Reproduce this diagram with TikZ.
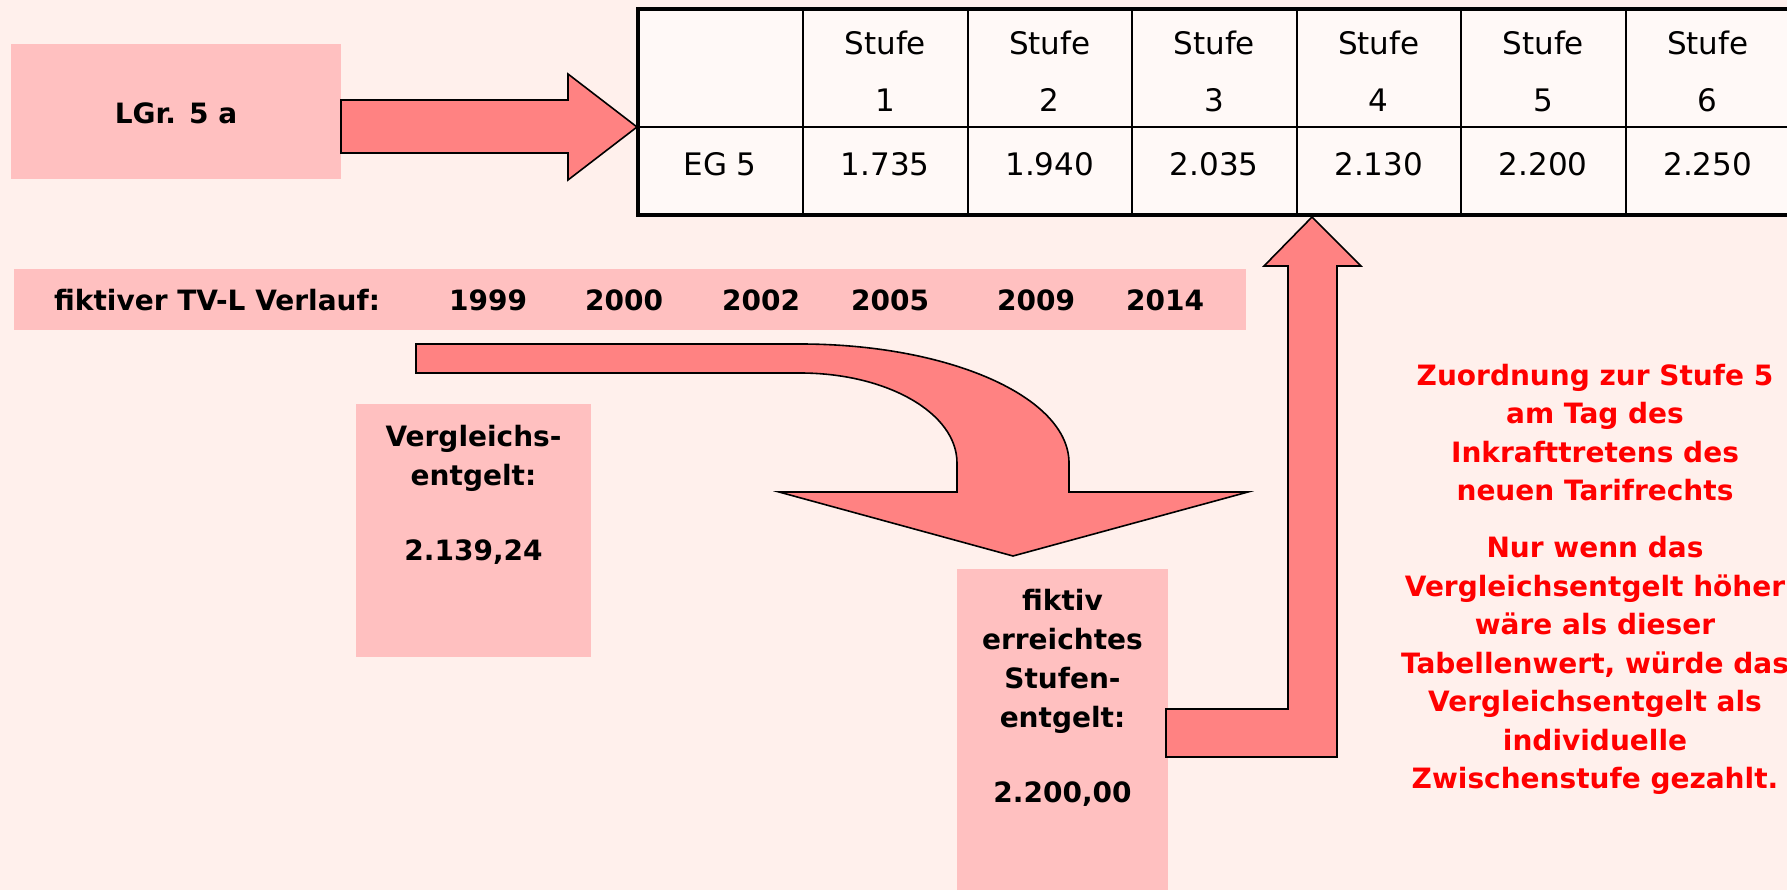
\documentclass[tikz,border=0pt]{standalone}
\usepackage{fontspec}
\setmainfont{DejaVu Sans}

\definecolor{grund}{RGB}{255,240,236}
\definecolor{kasten}{RGB}{255,192,192}
\definecolor{pfeil}{RGB}{255,130,130}
\definecolor{tabelle}{RGB}{255,249,247}

\tikzset{
  kastenfill/.style={fill=kasten, inner sep=0pt},
  blockpfeil/.style={fill=pfeil, draw=black, line width=1.6pt, line join=miter},
  fett/.style={font=\fontsize{28}{39}\selectfont\bfseries, align=center, inner sep=0pt},
  tabtext/.style={font=\fontsize{31}{57}\selectfont, align=center, inner sep=0pt},
  hinweis/.style={font=\fontsize{28}{38.5}\selectfont\bfseries, text=red, align=center, inner sep=0pt}
}

\begin{document}
\begin{tikzpicture}[x=1pt,y=-1pt]
\useasboundingbox (0,0) rectangle (1787,890);
\clip (0,0) rectangle (1787,890);
\fill[grund] (0,0) rectangle (1787,890);

\node[kastenfill, minimum width=330pt, minimum height=135pt, fett, text height=24pt] (lgr) at (176,111.5) {LGr. 5 a};
\draw[blockpfeil] (341,100) -- (568,100) -- (568,74) -- (637,127) -- (568,180) -- (568,153) -- (341,153) -- cycle;

\fill[tabelle] (638,9) rectangle (1800,215);
\foreach \x in {803,968,1132,1297,1461,1626}
  \draw[line width=1.5pt] (\x,9) -- (\x,215);
\draw[line width=1.5pt] (638,127) -- (1800,127);
\draw[line width=4.5pt] (1800,9) -- (638,9) -- (638,215) -- (1800,215);
\node[tabtext] (eg) at (720,164) {EG 5};
\foreach \i/\wert in {1/1.735,2/1.940,3/2.035,4/2.130,5/2.200,6/2.250} {
  \node[tabtext] (stufe\i) at ({803+164.5*(\i-0.5)},71.5) {Stufe\\\i};
  \node[tabtext] (wert\i) at ({803+164.5*(\i-0.5)},164) {\wert};
}

\node[kastenfill, minimum width=1232pt, minimum height=61pt] (verlauf) at (630,299.5) {};
\node[fett, anchor=west] (verlauftxt) at (54,300) {fiktiver TV-L Verlauf:};
\foreach \jahr/\x in {1999/488,2000/624,2002/761,2005/890,2009/1036,2014/1165}
  \node[fett] (j\jahr) at (\x,300) {\jahr};

\draw[blockpfeil] (416,344) -- (800,344) .. controls (949,344) and (1069,397) .. (1069,463)
  -- (1069,492) -- (1248,492) -- (1013,556) -- (779,492) -- (957,492) -- (957,463)
  .. controls (957,413) and (887,373) .. (800,373) -- (416,373) -- cycle;

\node[kastenfill, minimum width=235pt, minimum height=253pt] (vgl) at (473.5,530.5) {};
\node[fett, anchor=north] (vgltxt) at (473.5,425) {Vergleichs-\\entgelt:\\[36pt]2.139,24};

\node[kastenfill, minimum width=211pt, minimum height=321pt] (fiktiv) at (1062.5,729.5) {};
\node[fett, anchor=north] (fiktivtxt) at (1062.5,589) {fiktiv\\erreichtes\\Stufen-\\entgelt:\\[36pt]2.200,00};

\draw[blockpfeil] (1166,709) -- (1288,709) -- (1288,266) -- (1264,266) -- (1312,217) -- (1361,266)
  -- (1337,266) -- (1337,757) -- (1166,757) -- cycle;

\node[hinweis, anchor=north] (zuordnung) at (1595,364) {Zuordnung zur Stufe 5\\am Tag des\\Inkrafttretens des\\neuen Tarifrechts\\[18.5pt]Nur wenn das\\Vergleichsentgelt höher\\wäre als dieser\\Tabellenwert, würde das\\Vergleichsentgelt als\\individuelle\\Zwischenstufe gezahlt.};
\end{tikzpicture}
\end{document}
